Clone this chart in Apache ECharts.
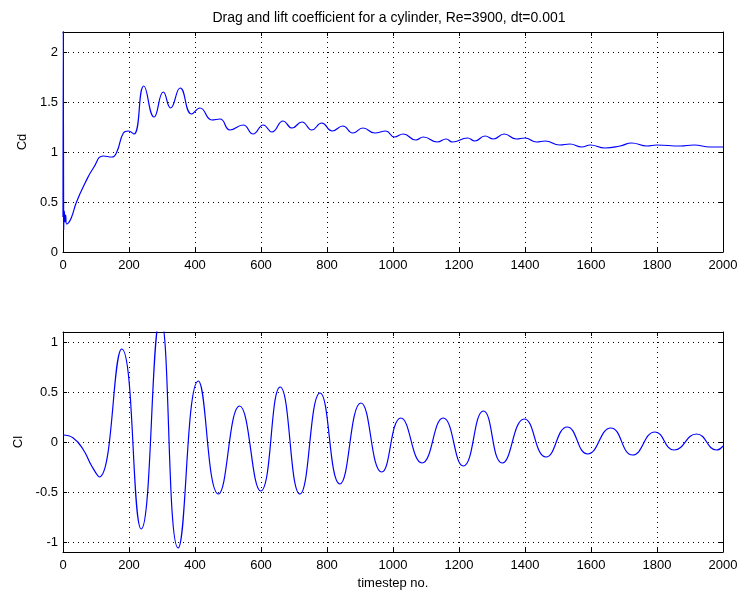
<!DOCTYPE html>
<html>
<head>
<meta charset="utf-8">
<script src="https://cdn.jsdelivr.net/npm/echarts@6/dist/echarts.min.js"></script>
<style>html,body{margin:0;padding:0;background:#fff}#c{width:737px;height:592px}</style>
</head>
<body>
<div id="c"></div>
<script>
// Drag coefficient Cd (timestep, value)
var cdSteps = [0, 1, 2, 4, 6, 8, 11, 16, 25, 41, 67, 92, 122, 148, 163, 183, 198, 215, 245, 276, 304, 326, 355, 390, 415, 451, 476, 506, 546, 576, 607, 633, 667, 694, 724, 754, 784, 816, 848, 878, 909, 945, 978, 1004, 1031, 1069, 1092, 1134, 1161, 1180, 1226, 1248, 1279, 1304, 1337, 1374, 1400, 1435, 1461, 1505, 1536, 1572, 1598, 1642, 1688, 1723, 1770, 1799, 1870, 1912, 1961, 2000];
var cdValues = [0.35, 2.35, 0.22, 0.41, 0.30, 0.37, 0.28, 0.29, 0.34, 0.50, 0.69, 0.84, 0.96, 0.95, 1.00, 1.19, 1.21, 1.18, 1.66, 1.35, 1.60, 1.44, 1.64, 1.38, 1.44, 1.32, 1.33, 1.22, 1.27, 1.18, 1.27, 1.20, 1.31, 1.24, 1.30, 1.22, 1.29, 1.21, 1.26, 1.19, 1.24, 1.19, 1.21, 1.15, 1.18, 1.12, 1.15, 1.10, 1.13, 1.10, 1.14, 1.11, 1.16, 1.13, 1.18, 1.13, 1.14, 1.10, 1.11, 1.07, 1.08, 1.05, 1.07, 1.04, 1.06, 1.09, 1.06, 1.07, 1.06, 1.07, 1.05, 1.05];
// Lift coefficient Cl (timestep, value)
var clSteps = [0, 31, 62, 87, 110, 178, 237, 295, 349, 410, 471, 535, 599, 658, 718, 779, 839, 903, 966, 1024, 1088, 1152, 1213, 1274, 1331, 1398, 1464, 1528, 1590, 1660, 1726, 1794, 1852, 1920, 1981, 2000];
var clValues = [0.07, 0.04, -0.08, -0.24, -0.35, 0.93, -0.87, 1.25, -1.06, 0.61, -0.52, 0.36, -0.49, 0.55, -0.52, 0.49, -0.42, 0.39, -0.30, 0.24, -0.21, 0.24, -0.24, 0.31, -0.21, 0.23, -0.15, 0.15, -0.12, 0.14, -0.13, 0.10, -0.08, 0.08, -0.08, -0.04];
var xTicks = [0, 200, 400, 600, 800, 1000, 1200, 1400, 1600, 1800, 2000];
var cdTicks = [0, 0.5, 1, 1.5, 2];
var clTicks = [-1, -0.5, 0, 0.5, 1];

var FONT = 'Liberation Sans';
function pairs(xs, ys) { return xs.map(function (x, i) { return [x, ys[i]]; }); }
function plain(v) { return String(v); }
var gridLine = { show: true, lineStyle: { color: '#000', type: [1, 4], width: 1 } };
var axLine = { show: true, onZero: false, lineStyle: { color: '#000', width: 1 } };

function xAx(gi, bottom, showName) {
  return {
    type: 'value', gridIndex: gi, min: 0, max: 2000,
    position: bottom ? 'bottom' : 'top',
    axisLine: axLine,
    axisTick: { show: true, inside: true, length: 4, lineStyle: { color: '#000' }, customValues: xTicks },
    axisLabel: { show: bottom, color: '#000', fontFamily: FONT, fontSize: 13, margin: 7, formatter: plain, customValues: xTicks },
    splitLine: bottom ? gridLine : { show: false },
    name: showName ? 'timestep no.' : '', nameLocation: 'middle', nameGap: 25,
    nameTextStyle: { color: '#000', fontFamily: FONT, fontSize: 13 }
  };
}
function yAx(gi, left, mn, mx, ticks, name, gap) {
  return {
    type: 'value', gridIndex: gi, min: mn, max: mx,
    position: left ? 'left' : 'right',
    axisLine: axLine,
    axisTick: { show: true, inside: true, length: 4, lineStyle: { color: '#000' }, customValues: ticks },
    axisLabel: { show: left, color: '#000', fontFamily: FONT, fontSize: 13, margin: 5, formatter: plain, customValues: ticks },
    splitLine: left ? gridLine : { show: false },
    name: left ? name : '', nameLocation: 'middle', nameGap: gap,
    nameTextStyle: { color: '#000', fontFamily: FONT, fontSize: 13 }
  };
}

var chart = echarts.init(document.getElementById('c'), null, { renderer: 'canvas' });
chart.setOption({
  animation: false,
  backgroundColor: '#fff',
  title: {
    text: 'Drag and lift coefficient for a cylinder, Re=3900, dt=0.001',
    left: 384, top: 6, textAlign: 'center',
    textStyle: { color: '#000', fontFamily: FONT, fontSize: 14, fontWeight: 'normal' }
  },
  grid: [
    { left: 63, right: 14, top: 32, height: 220, outerBoundsMode: 'none', containLabel: false },
    { left: 63, right: 14, top: 332, height: 220, outerBoundsMode: 'none', containLabel: false }
  ],
  xAxis: [xAx(0, true, false), xAx(0, false, false), xAx(1, true, true), xAx(1, false, false)],
  yAxis: [
    yAx(0, true, 0, 2.2, cdTicks, 'Cd', 27), yAx(0, false, 0, 2.2, cdTicks, '', 0),
    yAx(1, true, -1.1, 1.1, clTicks, 'Cl', 38), yAx(1, false, -1.1, 1.1, clTicks, '', 0)
  ],
  series: [
    { type: 'line', xAxisIndex: 0, yAxisIndex: 0, data: pairs(cdSteps, cdValues), smooth: 0.5, showSymbol: false, clip: true, lineStyle: { color: '#0000ff', width: 1.2 } },
    { type: 'line', xAxisIndex: 2, yAxisIndex: 2, data: pairs(clSteps, clValues), smooth: 0.5, showSymbol: false, clip: true, lineStyle: { color: '#0000ff', width: 1.2 } }
  ]
});
</script>
</body>
</html>
